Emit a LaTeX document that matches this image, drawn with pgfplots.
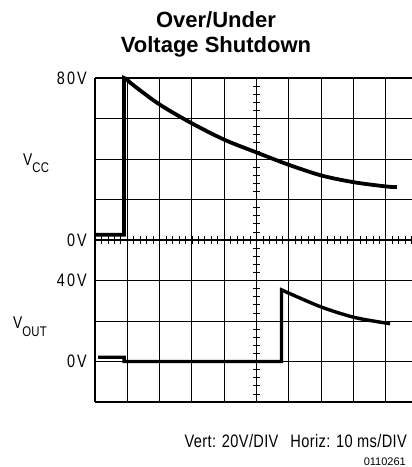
\documentclass[border=0pt]{standalone}
\usepackage{fontspec}
\setmainfont{Liberation Sans}
\newfontfamily\lblfont{Liberation Sans}[FakeStretch=0.8, LetterSpace=12]
\newfontfamily\btmfont{Liberation Sans}[FakeStretch=0.81, LetterSpace=2]
\usepackage{pgfplots}
\pgfplotsset{compat=1.18}
\pgfplotsset{scope/.style={
  width=317pt, height=162pt, scale only axis,
  xmin=0, xmax=98.1,
  axis x line=box, axis y line=left,
  axis line style={-, line width=1.3pt, black},
  xtick={10,20,...,90}, xticklabels={},
  grid=major, grid style={black, line width=0.9pt},
  major tick length=0pt,
  yticklabel style={font=\lblfont\fontsize{18}{18}\selectfont, inner sep=0pt, xshift=-8pt},
  clip=false}}
\begin{document}
\begin{tikzpicture}[x=1pt,y=1pt]
\useasboundingbox (0,0) rectangle (412,-467);
% V_CC panel
\begin{axis}[scope, at={(95pt,-240pt)}, anchor=south west,
  ymin=0, ymax=80, ytick={0,20,40,60,80}, yticklabels={0V,,,,80V}]
\pgfplotsinvokeforeach{2,4,...,98}{\draw[line width=0.8pt] (axis cs:#1,-2) -- (axis cs:#1,2);}
\pgfplotsinvokeforeach{4,8,...,76}{\draw[line width=0.8pt] (axis cs:48.9,#1) -- (axis cs:51.1,#1);}
\addplot[black, line width=3.8pt, line join=miter] coordinates {
 (0,2.6) (9.0,2.6) (9.0,80) (9.6,79.6)};
\addplot[black, line width=3.8pt, smooth, line cap=butt] coordinates {
 (9.6,79.6) (12,76.3) (20,66.9) (30,57.6) (40.2,49.4)
 (50.2,43.1) (60.2,37.0) (70.2,31.8) (80.2,28.5) (90.3,26.4) (93.4,26.2)};
\end{axis}
% V_OUT panel
\begin{axis}[scope, at={(95pt,-402pt)}, anchor=south west,
  ymin=-20, ymax=60, ytick={-20,0,20,40,60}, yticklabels={,0V,,40V,}]
\pgfplotsinvokeforeach{4,8,...,56}{\draw[line width=0.8pt] (axis cs:48.9,#1) -- (axis cs:51.1,#1);}
\pgfplotsinvokeforeach{-16,-12,...,-4}{\draw[line width=0.8pt] (axis cs:48.9,#1) -- (axis cs:51.1,#1);}
\addplot[black, line width=3.4pt, line join=miter] coordinates {
 (1.0,2.1) (9.0,2.1) (9.0,0) (57.7,0) (57.7,35.4) (58.3,35.0)};
\addplot[black, line width=3.4pt, smooth] coordinates {
 (58.3,35.0) (60.2,33.6) (70.2,26.8) (80.2,21.8) (90.3,18.9) (91.1,18.7)};
\end{axis}
% labels
\node[anchor=base, inner sep=0pt] at (216,-27) {\fontsize{22}{22}\selectfont\bfseries Over/Under};
\node[anchor=base, inner sep=0pt] at (216,-52) {\fontsize{22}{22}\selectfont\bfseries Voltage Shutdown};
\node[anchor=base west, inner sep=0pt] at (23,-165) {\btmfont\fontsize{17}{17}\selectfont V\raisebox{-7pt}{\fontsize{14}{14}\selectfont CC}};
\node[anchor=base west, inner sep=0pt] at (13,-328) {\btmfont\fontsize{17}{17}\selectfont V\raisebox{-8pt}{\fontsize{14}{14}\selectfont OUT}};
\node[anchor=base east, inner sep=0pt] at (407,-447) {\btmfont\fontsize{18}{18}\selectfont Vert: 20V/DIV\hspace{12pt}Horiz: 10 ms/DIV};
\node[anchor=base east, inner sep=0pt] at (406,-465) {\fontsize{11}{11}\selectfont 0110261};
\end{tikzpicture}
\end{document}
